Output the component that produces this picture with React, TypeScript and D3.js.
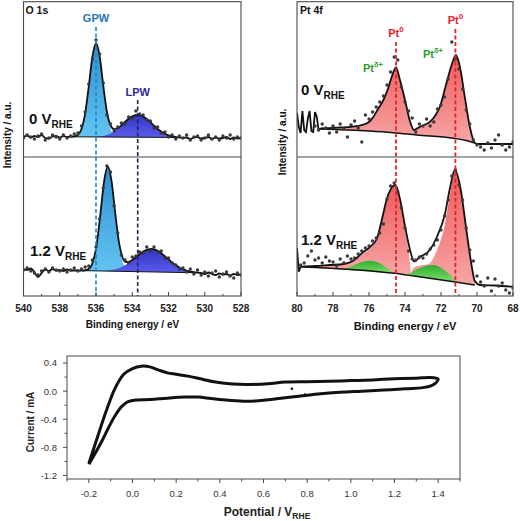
import * as d3 from 'd3';

type P = [number, number];

// ---- axis ticks ----
const o1sTicks = [540, 538, 536, 534, 532, 530, 528];
const ptTicks = [80, 78, 76, 74, 72, 70, 68];
const cvXTicks = [-0.2, 0.0, 0.2, 0.4, 0.6, 0.8, 1.0, 1.2, 1.4];
const cvYTicks = [0.4, 0.0, -0.4, -0.8, -1.2];

// peak positions (eV)
const o1sPeakE = [536.0, 533.7];
const o1sPeakNames = ['GPW', 'LPW'];
const ptPeakE = [74.5, 71.2];

// ---- O 1s, 0 V ----
const o1s0Fit: P[] = [[540,20],[539.8,21.5],[539.6,19.5],[539.4,21],[539.2,20],[539,22],[538.8,19],[538.6,18.5],[538.4,20.5],[538.2,21],[538,19.5],[537.8,21],[537.6,20],[537.4,20.4],[537.2,20.6],[537,22.1],[536.8,28],[536.6,43.4],[536.4,70.4],[536.2,100],[536,113.8],[535.8,100.8],[535.6,71.6],[535.4,45.5],[535.2,31.6],[535,27.8],[534.8,28.8],[534.6,31.6],[534.4,35],[534.2,38.2],[534,40.6],[533.8,41.9],[533.6,41.9],[533.4,40.5],[533.2,38],[533,34.8],[532.8,31.4],[532.6,28.1],[532.4,25.4],[532.2,23.2],[532,21.7],[531.8,20.6],[531.6,19.9],[531.4,19.5],[531.2,19.1],[531,19.5],[530.8,18],[530.6,19.5],[530.4,20],[530.2,18.5],[530,19],[529.8,20],[529.6,18],[529.4,19.5],[529.2,18.5],[529,19],[528.8,20],[528.6,18],[528.4,19.5],[528.2,18.5],[528,19]];
const o1s0Gpw: P[] = [[537.4,20.2],[537.2,20.5],[537,22],[536.8,27.9],[536.6,43.3],[536.4,70.3],[536.2,100],[536,113.5],[535.8,100],[535.6,70.3],[535.4,43.3],[535.2,27.9],[535,22],[534.8,20.3],[534.6,19.8]];
const o1s0Lpw: P[] = [[536.4,19.9],[536,20.2],[535.6,21.1],[535.2,23.6],[534.8,28.4],[534.4,35],[534.2,38.2],[534,40.7],[533.7,42.2],[533.4,40.7],[533.2,38.2],[533,35],[532.6,28.4],[532.2,23.5],[531.8,21],[531.4,20],[531,19.5]];
const o1s0Base: P[] = [[537.4,20.2],[531,19.5]];
const o1s0Dots = [19,22,20,18,21,23,17,19,22,20,18,22,19,21,23,24,31,45,73,98,117,103,74,42,33,26,30,34,33,40,38,46,43,42,37,36,29,30,24,25,20,22,18,21,19,22,17,20,21,17,19,22,18,20,17,21,19,22,18,20,19];

// ---- O 1s, 1.2 V ----
const o1s12Fit: P[] = [[540,27],[539.8,26],[539.6,27.5],[539.4,24],[539.2,19],[539,23],[538.8,26.5],[538.6,25],[538.4,27],[538.2,25.5],[538,26],[537.8,25],[537.6,26.5],[537.4,25.5],[537.15,25.5],[536.95,25.5],[536.75,25.4],[536.55,25.9],[536.35,27.9],[536.15,35.3],[535.95,53.1],[535.75,83.2],[535.55,115.2],[535.35,129.5],[535.15,115.8],[534.95,84.7],[534.75,55.6],[534.55,39.3],[534.35,34],[534.15,34.3],[533.95,36.8],[533.75,39.7],[533.55,42.6],[533.35,45],[533.15,46.5],[532.95,47.1],[532.75,46.4],[532.55,44.7],[532.35,42.1],[532.15,39.1],[531.95,35.9],[531.75,32.9],[531.55,30.2],[531.35,28],[531.15,26.4],[530.95,25.1],[530.75,24.3],[530.55,23.7],[530.35,23.4],[530.2,23],[530,22],[529.8,23.5],[529.6,22],[529.4,21],[529.2,22.5],[529,21.5],[528.8,22],[528.6,20.5],[528.4,22],[528.2,21],[528,21.5]];
const o1s12Gpw: P[] = [[536.75,25.3],[536.55,25.8],[536.35,27.9],[536.15,35.3],[535.95,53],[535.75,83],[535.55,114.9],[535.35,129],[535.15,114.9],[534.95,83],[534.75,52.9],[534.55,35.1],[534.35,27.6],[534.15,25.4],[533.95,24.6]];
const o1s12Lpw: P[] = [[535.55,25],[535.15,25.9],[534.75,27.7],[534.35,31.3],[533.95,36.7],[533.55,42.6],[533.15,46.5],[532.95,47.1],[532.75,46.4],[532.35,42.1],[531.95,35.9],[531.55,30.2],[531.15,26.4],[530.75,24.3],[530.35,23.2]];
const o1s12Base: P[] = [[536.8,25.4],[530.35,23.2]];
const o1s12Dots = [26,28,25,23,21,25,27,24,28,26,25,27,24,26,28,25,27,29,30,36,49,77,108,130,124,90,63,41,36,33,39,40,44,43,49,45,49,44,45,38,38,33,31,27,28,24,27,22,26,21,24,20,23,25,19,22,24,20,18,23,21];

// ---- Pt 4f, 0 V ----
const pt0Fit: P[] = [[80,44],[79.9,30],[79.8,24],[79.7,46],[79.6,27],[79.5,25],[79.4,38],[79.3,46],[79.2,26],[79.1,25],[79,45],[78.9,40],[78.8,27],[78.7,28.5],[78.4,28.8],[78,29.2],[77.5,29.6],[77,30.2],[76.5,31.5],[76,35],[75.76,40],[75.5,48],[75.2,57],[74.95,68],[74.74,80],[74.5,89.5],[74.28,77],[74,57],[73.72,35.5],[73.5,27],[73.17,30.3],[72.6,35.3],[72.3,42],[72.06,50.3],[71.7,73.7],[71.41,92],[71.17,102],[70.95,90.3],[70.68,60.3],[70.4,30.3],[70.12,14],[69.9,13],[69,13],[68,13]];
const pt0Bg: P[] = [[78.7,28],[76,26],[74.65,24.3],[73.35,22],[71.3,18.7],[70.6,16.5],[70.12,14]];
const pt0Dots = [31,27,33,29,24,31,25,33,28,20,32,36,29,15,42,38,45,50,55,61,72,85,100,97,70,55,46,39,25,33,31,38,31,35,48,52,60,78,115,98,88,68,47,33,17,12,10,7,14,9,17,22,12,7,10,15];

// ---- Pt 4f, 1.2 V ----
const pt12Fit: P[] = [[80,47.7],[79.9,24.3],[79.8,29.3],[79,30],[78.2,31],[77.4,32],[76.9,35],[76.31,44],[75.94,49],[75.57,57],[75.29,76],[75.01,97],[74.78,107],[74.53,111],[74.28,97],[74,70],[73.72,46],[73.5,34.5],[73.17,39],[72.62,46],[72.23,59],[71.78,82],[71.5,108],[71.23,126],[70.9,106],[70.62,70],[70.34,35],[70.12,15],[69.84,11],[69,10.5],[68,9.3]];
const pt12Bg: P[] = [[79.8,29.3],[74.6,22.7],[73.5,20],[71.3,14.3],[70.12,11]];
const pt12Red1: P[] = [[79.8,29.3],[78.5,30.2],[77.6,32],[77,34.5],[76.3,42.5],[75.94,47.5],[75.57,55.5],[75.29,74],[75.01,95],[74.78,105],[74.53,110],[74.28,96],[74,68],[73.8,45],[73.68,26]];
const pt12Red1Low: P[] = [[79.8,29.3],[74.6,22.7],[73.68,20.4]];
const pt12Red2: P[] = [[73.62,26],[73.45,29],[73.17,30.5],[72.8,31.4],[72.62,32.8],[72.23,45.5],[71.78,72],[71.5,102],[71.23,124],[70.9,105],[70.62,70],[70.34,35],[70.12,15]];
const pt12Red2Low: P[] = [[73.62,20.3],[71.3,14.3],[70.12,11]];
const pt12Green1: P[] = [[77.6,26.5],[77,29.5],[76.5,33.3],[75.94,35.3],[75.4,32.7],[74.86,26],[74.5,22.6]];
const pt12Green2: P[] = [[73.9,21.2],[73.6,24],[73.35,26.7],[72.8,30.3],[72.43,31],[71.97,27.7],[71.5,21],[71.14,14]];
const pt12Dots = [31,33,40,45,36,38,33,39,35,34,30,37,33,40,37,38,42,45,48,50,55,58,63,72,97,110,113,104,88,68,45,37,36,39,38,42,47,51,56,66,80,96,120,126,111,96,68,46,35,20,14,10,18,5,17,10,13,6,3,8];

// ---- cyclic voltammogram ----
const cvForward: P[] = [[-0.2,-1.03],[-0.16,-0.65],[-0.12,-0.28],[-0.08,0.04],[-0.04,0.24],[0,0.32],[0.04,0.355],[0.08,0.345],[0.12,0.3],[0.16,0.26],[0.2,0.24],[0.26,0.21],[0.32,0.17],[0.38,0.13],[0.46,0.1],[0.54,0.095],[0.62,0.105],[0.7,0.13],[0.8,0.135],[0.9,0.14],[1,0.15],[1.1,0.16],[1.2,0.175],[1.3,0.185],[1.38,0.19],[1.4,0.17]];
const cvBackward: P[] = [[1.39,0.12],[1.37,0.08],[1.33,0.05],[1.25,0.035],[1.15,0.015],[1.05,0],[0.95,-0.015],[0.85,-0.04],[0.75,-0.075],[0.68,-0.1],[0.6,-0.13],[0.52,-0.145],[0.44,-0.13],[0.36,-0.105],[0.3,-0.085],[0.24,-0.085],[0.16,-0.1],[0.08,-0.12],[0.02,-0.125],[-0.02,-0.15],[-0.05,-0.22],[-0.08,-0.35],[-0.11,-0.52],[-0.14,-0.71],[-0.17,-0.88],[-0.2,-1.04]];
const cvStray: P[] = [[0.73,0.035],[0.79,-0.05]];

const FONT = "'Liberation Sans', Arial, sans-serif";

type Sc = d3.ScaleLinear<number, number>;

const smooth = (x: Sc, y: Sc) => d3.line<P>().x(d => x(d[0])).y(d => y(d[1])).curve(d3.curveMonotoneX);
const straight = (x: Sc, y: Sc) => d3.line<P>().x(d => x(d[0])).y(d => y(d[1]));
const peakPath = (x: Sc, y: Sc, pts: P[]) => smooth(x, y)(pts) + 'Z';
const bandPath = (x: Sc, y: Sc, top: P[], low: P[]) =>
  smooth(x, y)(top) + (straight(x, y)(low.slice().reverse()) || '').replace('M', 'L') + 'Z';

// noisy raw segment drawn straight, fitted part drawn smooth
const fitPath = (x: Sc, y: Sc, pts: P[], split: number) =>
  (straight(x, y)(pts.filter(d => d[0] >= split)) || '') + ' ' + (smooth(x, y)(pts.filter(d => d[0] <= split)) || '');

const Vrhe = ({ x, y, v, size, sub }: { x: number; y: number; v: string; size: number; sub: number }) => (
  <text x={x} y={y} fontFamily={FONT} fontWeight="bold" fontSize={size} fill="#111">
    {v + ' V'}
    <tspan fontSize={sub} dy={4}>RHE</tspan>
  </text>
);

const BottomAxis = ({ x, ticks, y }: { x: Sc; ticks: number[]; y: number }) => {
  const [a, b] = x.domain();
  const minors = d3.range(Math.min(a, b), Math.max(a, b) + 0.01, 1).filter(t => !ticks.includes(t));
  return (
    <g>
      {ticks.map(t => (
        <g key={t}>
          <line x1={x(t)} x2={x(t)} y1={y} y2={y - 4} stroke="#444" strokeWidth={1} />
          <text x={x(t)} y={y + 15.5} textAnchor="middle" fontFamily={FONT} fontWeight="bold" fontSize={10} fill="#222">{t}</text>
        </g>
      ))}
      {minors.map(t => (
        <line key={'m' + t} x1={x(t)} x2={x(t)} y1={y} y2={y - 2} stroke="#444" strokeWidth={1} />
      ))}
    </g>
  );
};

const Dots = ({ x, y, e0, vals }: { x: Sc; y: Sc; e0: number; vals: number[] }) => (
  <g fill="#3a3a3a">
    {vals.map((v, i) => <circle key={i} cx={x(e0 - i * 0.2)} cy={y(v)} r={1.7} />)}
  </g>
);

export default function App() {
  const xO = d3.scaleLinear().domain([540, 528]).range([23.5, 241]);
  const xP = d3.scaleLinear().domain([80, 68]).range([297, 513]);
  const yT = d3.scaleLinear().domain([0, 155]).range([157, 2]);
  const yB = d3.scaleLinear().domain([0, 139]).range([296, 157]);

  const xC = d3.scaleLinear().domain([-0.3, 1.5]).range([67, 460]);
  const yC = d3.scaleLinear().domain([-1.25, 0.5]).range([479, 356]);
  const cvLine = d3.line<P>().x(d => xC(d[0])).y(d => yC(d[1])).curve(d3.curveCatmullRom.alpha(0.5));

  const pt0Red = pt0Fit.filter(d => d[0] <= 78.7 && d[0] >= 70.12);

  const frame = (x0: number, x1: number) => (
    <g fill="none" stroke="#4a4a4a" strokeWidth={1.1}>
      <rect x={x0} y={1.7} width={x1 - x0} height={296 - 1.7} />
      <line x1={x0} x2={x1} y1={157} y2={157} />
    </g>
  );

  const cvMinorX = d3.range(-3, 16).map(i => i / 10).filter(t => !cvXTicks.some(m => Math.abs(m - t) < 1e-6));
  const cvMinorY = [0.2, -0.2, -0.6, -1.0];

  return (
    <svg width={520} height={521} style={{ position: 'absolute', left: 0, top: 0, background: '#fff' }}>
      <defs>
        <linearGradient id="gGpw" x1="0" y1="0" x2="0" y2="1">
          <stop offset="0" stopColor="#2f8fd2" />
          <stop offset="1" stopColor="#62c4f2" />
        </linearGradient>
        <linearGradient id="gLpw" x1="0" y1="0" x2="0" y2="1">
          <stop offset="0" stopColor="#3232c4" />
          <stop offset="1" stopColor="#5c5cec" />
        </linearGradient>
        <linearGradient id="gRed" x1="0" y1="0" x2="0" y2="1">
          <stop offset="0" stopColor="#ee5a5a" />
          <stop offset="1" stopColor="#f7a6a6" />
        </linearGradient>
        <linearGradient id="gGreen" x1="0" y1="0" x2="0" y2="1">
          <stop offset="0" stopColor="#2eae2e" />
          <stop offset="1" stopColor="#7fdc6c" />
        </linearGradient>
        <clipPath id="cOT"><rect x={23.5} y={1.7} width={217.5} height={155.3} /></clipPath>
        <clipPath id="cOB"><rect x={23.5} y={157} width={217.5} height={139} /></clipPath>
        <clipPath id="cPT"><rect x={297} y={1.7} width={216} height={155.3} /></clipPath>
        <clipPath id="cPB"><rect x={297} y={157} width={216} height={139} /></clipPath>
      </defs>

      {/* ---------- O 1s ---------- */}
      <g clipPath="url(#cOT)">
        <path d={peakPath(xO, yT, o1s0Gpw)} fill="url(#gGpw)" />
        <path d={peakPath(xO, yT, o1s0Lpw)} fill="url(#gLpw)" />
        <path d={straight(xO, yT)(o1s0Base) || ''} stroke="#111" strokeWidth={1} fill="none" />
        <path d={smooth(xO, yT)(o1s0Fit) || ''} stroke="#111" strokeWidth={1.8} fill="none" />
        <Dots x={xO} y={yT} e0={540} vals={o1s0Dots} />
      </g>
      <g clipPath="url(#cOB)">
        <path d={peakPath(xO, yB, o1s12Gpw)} fill="url(#gGpw)" />
        <path d={peakPath(xO, yB, o1s12Lpw)} fill="url(#gLpw)" />
        <path d={straight(xO, yB)(o1s12Base) || ''} stroke="#111" strokeWidth={1} fill="none" />
        <path d={smooth(xO, yB)(o1s12Fit) || ''} stroke="#111" strokeWidth={1.8} fill="none" />
        <Dots x={xO} y={yB} e0={540} vals={o1s12Dots} />
      </g>
      <line x1={xO(o1sPeakE[0])} x2={xO(o1sPeakE[0])} y1={27} y2={296} stroke="#1f86c8" strokeWidth={1.6} strokeDasharray="4 2.5" />
      <line x1={xO(o1sPeakE[1])} x2={xO(o1sPeakE[1])} y1={100} y2={296} stroke="#1b2458" strokeWidth={1.6} strokeDasharray="4 2.5" />
      {frame(23.5, 241)}
      <BottomAxis x={xO} ticks={o1sTicks} y={296} />
      <text x={25.5} y={14} fontFamily={FONT} fontWeight="bold" fontSize={10.5} fill="#111">O 1s</text>
      <text x={xO(o1sPeakE[0])} y={22} textAnchor="middle" fontFamily={FONT} fontWeight="bold" fontSize={11} fill="#2874b0">{o1sPeakNames[0]}</text>
      <text x={xO(o1sPeakE[1])} y={96} textAnchor="middle" fontFamily={FONT} fontWeight="bold" fontSize={11} fill="#2a2a9c">{o1sPeakNames[1]}</text>
      <Vrhe x={29} y={124} v="0" size={15} sub={10} />
      <Vrhe x={30} y={256} v="1.2" size={15} sub={10} />
      <text transform="translate(10.5,135) rotate(-90)" textAnchor="middle" fontFamily={FONT} fontWeight="bold" fontSize={10} fill="#111">Intensity / a.u.</text>
      <text x={132.5} y={328} textAnchor="middle" fontFamily={FONT} fontWeight="bold" fontSize={10} fill="#111">Binding energy / eV</text>

      {/* ---------- Pt 4f ---------- */}
      <g clipPath="url(#cPT)">
        <path d={bandPath(xP, yT, pt0Red, pt0Bg)} fill="url(#gRed)" />
        <path d={smooth(xP, yT)(pt0Bg) || ''} stroke="#111" strokeWidth={1.4} fill="none" />
        <path d={fitPath(xP, yT, pt0Fit, 78.7)} stroke="#111" strokeWidth={1.8} fill="none" strokeLinejoin="miter" />
        <Dots x={xP} y={yT} e0={79} vals={pt0Dots} />
      </g>
      <g clipPath="url(#cPB)">
        <path d={bandPath(xP, yB, pt12Red1, pt12Red1Low)} fill="url(#gRed)" />
        <path d={bandPath(xP, yB, pt12Red2, pt12Red2Low)} fill="url(#gRed)" />
        <path d={peakPath(xP, yB, pt12Green1)} fill="url(#gGreen)" />
        <path d={peakPath(xP, yB, pt12Green2)} fill="url(#gGreen)" />
        <path d={smooth(xP, yB)(pt12Bg) || ''} stroke="#111" strokeWidth={1.4} fill="none" />
        <path d={fitPath(xP, yB, pt12Fit, 79.8)} stroke="#111" strokeWidth={1.8} fill="none" />
        <Dots x={xP} y={yB} e0={79.8} vals={pt12Dots} />
      </g>
      <line x1={xP(ptPeakE[0])} x2={xP(ptPeakE[0])} y1={42} y2={296} stroke="#e8202a" strokeWidth={1.8} strokeDasharray="4 2.5" />
      <line x1={xP(ptPeakE[1])} x2={xP(ptPeakE[1])} y1={29} y2={296} stroke="#e8202a" strokeWidth={1.8} strokeDasharray="4 2.5" />
      {frame(297, 513)}
      <BottomAxis x={xP} ticks={ptTicks} y={296} />
      <text x={300} y={14} fontFamily={FONT} fontWeight="bold" fontSize={10.5} fill="#111">Pt 4f</text>
      {ptPeakE.map((e, i) => (
        <text key={e} x={xP(e)} y={i === 0 ? 37 : 24} textAnchor="middle" fontFamily={FONT} fontWeight="bold" fontSize={11} fill="#e8202a">
          Pt<tspan fontSize={8} dy={-5}>0</tspan>
        </text>
      ))}
      <text x={363} y={72} fontFamily={FONT} fontWeight="bold" fontSize={11} fill="#2c9a2c">Pt<tspan fontSize={7.5} dy={-5}>δ+</tspan></text>
      <text x={423} y={58} fontFamily={FONT} fontWeight="bold" fontSize={11} fill="#2c9a2c">Pt<tspan fontSize={7.5} dy={-5}>δ+</tspan></text>
      <Vrhe x={301} y={95} v="0" size={15} sub={10} />
      <Vrhe x={301} y={245} v="1.2" size={15} sub={10} />
      <text transform="translate(286,142) rotate(-90)" textAnchor="middle" fontFamily={FONT} fontWeight="bold" fontSize={10} fill="#111">Intensity / a.u.</text>
      <text x={405} y={330} textAnchor="middle" fontFamily={FONT} fontWeight="bold" fontSize={11} fill="#111">Binding energy / eV</text>

      {/* ---------- CV ---------- */}
      <rect x={67} y={356} width={393} height={123} fill="none" stroke="#4a4a4a" strokeWidth={1} />
      {cvXTicks.map(t => (
        <g key={t}>
          <line x1={xC(t)} x2={xC(t)} y1={479} y2={483} stroke="#4a4a4a" />
          <text x={xC(t)} y={497} textAnchor="middle" fontFamily={FONT} fontSize={9.5} fill="#333">{t.toFixed(1)}</text>
        </g>
      ))}
      {cvMinorX.map(t => (
        <line key={'mx' + t} x1={xC(t)} x2={xC(t)} y1={479} y2={481.5} stroke="#4a4a4a" />
      ))}
      {cvYTicks.map(t => (
        <g key={t}>
          <line x1={63} x2={67} y1={yC(t)} y2={yC(t)} stroke="#4a4a4a" />
          <text x={57} y={yC(t) + 3.4} textAnchor="end" fontFamily={FONT} fontSize={9.5} fill="#333">{t.toFixed(1)}</text>
        </g>
      ))}
      {cvMinorY.map(t => (
        <line key={'my' + t} x1={64.5} x2={67} y1={yC(t)} y2={yC(t)} stroke="#4a4a4a" />
      ))}
      <path d={cvLine([...cvForward, ...cvBackward]) || ''} fill="none" stroke="#111" strokeWidth={3} strokeLinejoin="round" />
      {cvStray.map((d, i) => <circle key={i} cx={xC(d[0])} cy={yC(d[1])} r={1.3} fill="#111" />)}
      <text transform="translate(34,422) rotate(-90)" textAnchor="middle" fontFamily={FONT} fontWeight="bold" fontSize={10} fill="#222">Current  / mA</text>
      <text x={267} y={516} textAnchor="middle" fontFamily={FONT} fontWeight="bold" fontSize={12} fill="#222">
        Potential / V<tspan fontSize={8.5} dy={3}>RHE</tspan>
      </text>
    </svg>
  );
}
